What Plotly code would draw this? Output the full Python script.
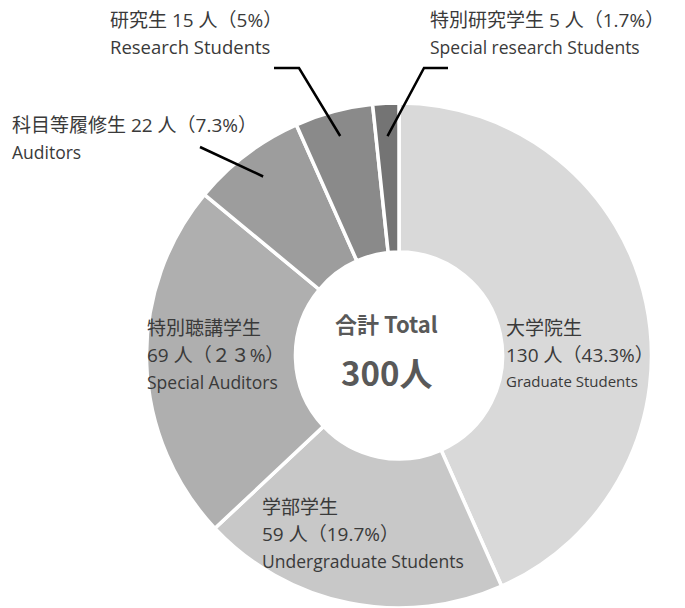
import math
import plotly.graph_objects as go

# page shows the figure offset by the body margin; work in reference pixels
OX, OY = 8, 8
W, H = 685 - OX, 608 - OY

labels_ja = ["大学院生", "学部学生", "特別聴講学生", "科目等履修生", "研究生", "特別研究学生"]
labels_en = ["Graduate Students", "Undergraduate Students", "Special Auditors",
             "Auditors", "Research Students", "Special research Students"]
values = [130, 59, 69, 22, 15, 5]
count_text = ["130 人（43.3%）", "59 人（19.7%）", "69 人（２３%）",
              "22 人（7.3%）", "15 人（5%）", "5 人（1.7%）"]
colors = ["#d9d9d9", "#c8c8c8", "#afafaf", "#9d9d9d", "#8a8a8a", "#747474"]
total = sum(values)

# pie geometry (reference pixels)
cx, cy, R = 399, 355.5, 252.5
hole = 0.41


def px(x):
    return (x - OX) / W


def py(y):
    return 1 - (y - OY) / H


fig = go.Figure(go.Pie(
    labels=labels_ja, values=values, sort=False, direction="clockwise", rotation=0,
    hole=hole, textinfo="none", hoverinfo="label+value+percent",
    marker=dict(colors=colors, line=dict(color="white", width=3.5)),
    domain=dict(x=[px(cx - R), px(cx + R)], y=[max(0, py(cy + R)), min(1, py(cy - R))]),
    showlegend=False,
))

FONT = "Open Sans, Noto Sans CJK JP, sans-serif"
CFONT = "Noto Sans CJK JP, sans-serif"
TXT = "#3a3a3a"
ann = []


def label(x, y, text, size, color=TXT, xanchor="left", family=FONT):
    ann.append(dict(x=px(x), y=py(y), xref="paper", yref="paper", text=text,
                    showarrow=False, xanchor=xanchor, yanchor="middle",
                    font=dict(family=family, size=size, color=color)))


JS, ES = 19, 17.5
# 0 大学院生
label(504, 328, labels_ja[0], JS)
label(504, 355, count_text[0], JS)
label(504, 381, labels_en[0], 15)
# 1 学部学生
label(260, 507, labels_ja[1], JS)
label(260, 534, count_text[1], JS)
label(260, 561, labels_en[1], ES)
# 2 特別聴講学生
label(145, 328, labels_ja[2], JS)
label(145, 355, count_text[2], JS)
label(145, 382, labels_en[2], ES)
# 3 科目等履修生
label(10, 125, labels_ja[3] + " " + count_text[3], JS)
label(10, 152, labels_en[3], ES)
# 4 研究生
label(108, 20, labels_ja[4] + " " + count_text[4], JS)
label(108, 47, labels_en[4], 18.5)
# 5 特別研究学生
label(428, 20, labels_ja[5] + " " + count_text[5], JS)
label(428, 47, labels_en[5], ES)

# center text
label(386, 323, "<b>合計 Total</b>", 22, color="#595959", xanchor="center", family=CFONT)
label(386, 372, "<b>300人</b>", 33, color="#595959", xanchor="center", family=CFONT)

# leader lines: start near slice midpoints
cum = 0
mids = []
for v in values:
    mids.append((cum + v / 2) / total * 2 * math.pi)
    cum += v


def slice_pt(i, rfrac):
    a = mids[i]
    return cx + R * rfrac * math.sin(a), cy - R * rfrac * math.cos(a)


shapes = []


def poly(pts):
    d = "M " + " L ".join(f"{px(x)} {py(y)}" for x, y in pts)
    shapes.append(dict(type="path", path=d, xref="paper", yref="paper",
                       line=dict(color="#000000", width=2.5)))


x3, y3 = slice_pt(3, 0.89)
poly([(200, 147), (x3, y3)])
x4, y4 = slice_pt(4, 0.9)
poly([(274, 68), (299, 68), (x4, y4)])
x5, y5 = slice_pt(5, 0.87)
poly([(448, 68), (424, 68), (x5, y5)])

fig.update_layout(width=W, height=H, margin=dict(l=0, r=0, t=0, b=0),
                  paper_bgcolor="white", plot_bgcolor="white",
                  annotations=ann, shapes=shapes)
fig.write_html("out.html")
